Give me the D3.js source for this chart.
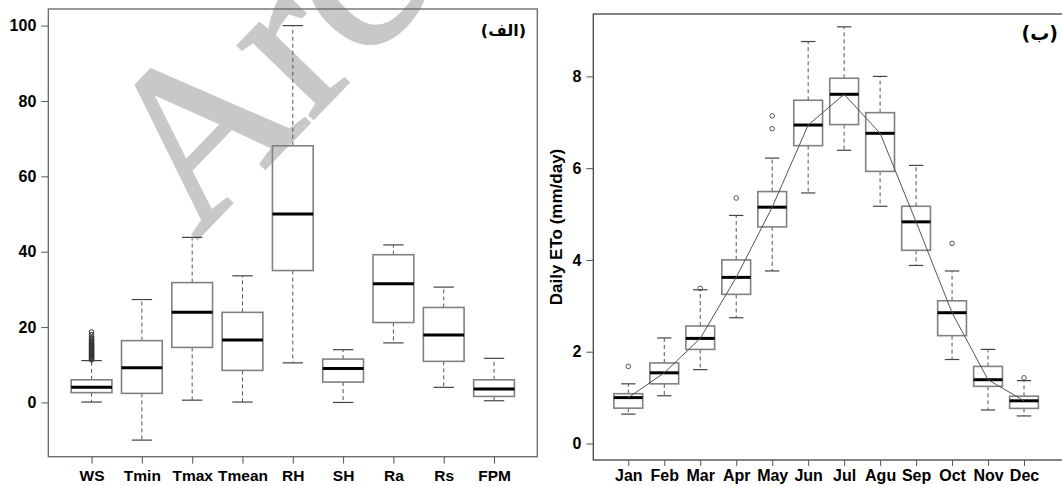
<!DOCTYPE html>
<html>
<head>
<meta charset="utf-8">
<script src="https://cdn.jsdelivr.net/npm/d3@7"></script>
<style>
  body { margin: 0; background: #fff; }
  text { font-family: "Liberation Sans", Arial, sans-serif; font-weight: bold; fill: #000; }
</style>
</head>
<body>
<script>
// left panel: weather variables
let vars = ["WS", "Tmin", "Tmax", "Tmean", "RH", "SH", "Ra", "Rs", "FPM"];
let varLow  = [0.1, -10.0, 0.6, 0.1, 10.5, 0.0, 15.8, 4.0, 0.45];
let varQ1   = [2.6, 2.4, 14.6, 8.5, 35.0, 5.4, 21.2, 10.9, 1.6];
let varMed  = [4.0, 9.2, 23.9, 16.6, 50.0, 9.0, 31.5, 17.9, 3.55];
let varQ3   = [6.0, 16.4, 31.8, 23.9, 68.1, 11.5, 39.2, 25.2, 6.0];
let varHigh = [11.1, 27.3, 43.8, 33.6, 100, 14.0, 41.8, 30.6, 11.7];
let wsOut = [11.3, 11.5, 11.7, 11.9, 12.1, 12.3, 12.5, 12.7, 12.9, 13.1, 13.3, 13.5, 13.7,
  13.9, 14.1, 14.3, 14.5, 14.7, 14.9, 15.1, 15.3, 15.5, 15.7, 15.9, 16.2, 16.5, 16.8, 17.1, 17.4, 18.0, 18.7];

// right panel: monthly daily ETo
let months = ["Jan", "Feb", "Mar", "Apr", "May", "Jun", "Jul", "Agu", "Sep", "Oct", "Nov", "Dec"];
let etoLow  = [0.64, 1.04, 1.61, 2.74, 3.76, 5.46, 6.39, 5.17, 3.88, 1.83, 0.73, 0.60];
let etoQ1   = [0.77, 1.30, 2.05, 3.25, 4.72, 6.49, 6.95, 5.93, 4.21, 2.35, 1.245, 0.765];
let etoMed  = [1.00, 1.54, 2.29, 3.62, 5.15, 6.94, 7.61, 6.76, 4.83, 2.85, 1.39, 0.93];
let etoQ3   = [1.085, 1.755, 2.56, 4.00, 5.49, 7.48, 7.96, 7.21, 5.17, 3.11, 1.68, 1.03];
let etoHigh = [1.30, 2.30, 3.35, 4.97, 6.22, 8.76, 9.08, 8.00, 6.06, 3.76, 2.05, 1.37];
let etoOut  = [[1.68], [], [3.38], [5.35], [7.14, 6.86], [], [], [], [], [4.36], [], [1.43]];

let leftTicks = [0, 20, 40, 60, 80, 100];
let rightTicks = [0, 2, 4, 6, 8];

let svg = d3.select("body").append("svg")
    .attr("width", 1062)
    .attr("height", 486);

// watermark behind everything (only its start shows, like the source)
svg.append("text")
    .attr("transform", "translate(196,240) rotate(-46)")
    .style("font-family", "'Liberation Serif', serif")
    .style("font-weight", "normal")
    .style("font-size", "228px")
    .style("fill", "#c8c8c8")
    .style("stroke", "#c8c8c8")
    .style("stroke-width", 3)
    .text("Arc");

function drawBoxes(g, x, y, n, low, q1, med, q3, high, outs, bw, outColor) {
    for (let i = 0; i < n; i++) {
        let cx = x(i + 1);
        let box = g.append("g");
        // whiskers
        box.append("line").attr("x1", cx).attr("x2", cx)
            .attr("y1", y(q3[i])).attr("y2", y(high[i]))
            .attr("stroke", "#555").attr("stroke-dasharray", "4,3");
        box.append("line").attr("x1", cx).attr("x2", cx)
            .attr("y1", y(q1[i])).attr("y2", y(low[i]))
            .attr("stroke", "#555").attr("stroke-dasharray", "4,3");
        // staples
        [low[i], high[i]].forEach(function (v) {
            box.append("line").attr("x1", cx - bw / 4).attr("x2", cx + bw / 4)
                .attr("y1", y(v)).attr("y2", y(v))
                .attr("stroke", "#444").attr("stroke-width", 1.2);
        });
        box.append("rect")
            .attr("x", cx - bw / 2).attr("width", bw)
            .attr("y", y(q3[i])).attr("height", y(q1[i]) - y(q3[i]))
            .attr("fill", "none").attr("stroke", "#808080").attr("stroke-width", 1.6);
        box.append("line").attr("x1", cx - bw / 2).attr("x2", cx + bw / 2)
            .attr("y1", y(med[i])).attr("y2", y(med[i]))
            .attr("stroke", "#000").attr("stroke-width", 3);
        box.selectAll("circle").data(outs[i]).enter().append("circle")
            .attr("cx", cx).attr("cy", function (d) { return y(d); })
            .attr("r", 2.3).attr("fill", "none")
            .attr("stroke", outColor).attr("stroke-width", 1);
    }
}

// ---------- left panel ----------
let xL = d3.scaleLinear().domain([0.14, 9.86]).range([48.3, 537.3]);
let yL = d3.scaleLinear().domain([-14.4, 104.4]).range([456.7, 9]);

let gL = svg.append("g");
let outsL = vars.map(function (v, i) { return i === 0 ? wsOut : []; });
drawBoxes(gL, xL, yL, vars.length, varLow, varQ1, varMed, varQ3, varHigh, outsL, 0.81 * 50.3, "#333");

gL.append("rect").attr("x", 48.3).attr("y", 9).attr("width", 489).attr("height", 447.7)
    .attr("fill", "none").attr("stroke", "#666").attr("stroke-width", 1.3);

let axL = gL.append("g").attr("transform", "translate(48.3,0)")
    .call(d3.axisLeft(yL).tickValues(leftTicks).tickSize(7).tickPadding(5));
let axLx = gL.append("g").attr("transform", "translate(0,456.7)")
    .call(d3.axisBottom(xL).tickValues(d3.range(1, 10)).tickSize(7).tickPadding(6)
        .tickFormat(function (d) { return vars[d - 1]; }));
axL.selectAll("text").style("font-size", "16px");
axLx.selectAll("text").style("font-size", "15.5px");

gL.append("text").attr("x", 526).attr("y", 36).attr("text-anchor", "end")
    .style("font-family", "'DejaVu Sans', sans-serif").style("font-size", "16px")
    .text("(الف)");

// ---------- right panel ----------
let xR = d3.scaleLinear().domain([1, 12]).range([628.3, 1024]);
let yR = d3.scaleLinear().domain([-0.36, 9.36]).range([460, 14]);

let gR = svg.append("g");
drawBoxes(gR, xR, yR, months.length, etoLow, etoQ1, etoMed, etoQ3, etoHigh, etoOut, 0.8 * 36, "#555");

gR.append("path")
    .datum(etoMed)
    .attr("d", d3.line().x(function (d, i) { return xR(i + 1); }).y(function (d) { return yR(d); }))
    .attr("fill", "none").attr("stroke", "#555").attr("stroke-width", 1);

gR.append("rect").attr("x", 593.3).attr("y", 14).attr("width", 480).attr("height", 446)
    .attr("fill", "none").attr("stroke", "#444").attr("stroke-width", 1.3);

let axR = gR.append("g").attr("transform", "translate(593.3,0)")
    .call(d3.axisLeft(yR).tickValues(rightTicks).tickSize(7).tickPadding(5));
let axRx = gR.append("g").attr("transform", "translate(0,460)")
    .call(d3.axisBottom(xR).tickValues(d3.range(1, 13)).tickSize(6).tickPadding(4)
        .tickFormat(function (d) { return months[d - 1]; }));
axR.selectAll("text").style("font-size", "16px");
axRx.selectAll("text").style("font-size", "16px");

gR.append("text")
    .attr("transform", "translate(562,227) rotate(-90)")
    .attr("text-anchor", "middle")
    .style("font-size", "17px")
    .text("Daily ETo (mm/day)");

gR.append("text").attr("x", 1058).attr("y", 40).attr("text-anchor", "end")
    .style("font-family", "'DejaVu Sans', sans-serif").style("font-size", "19px")
    .text("(ب)");

// axis styling like base R
svg.selectAll(".domain").remove();
svg.selectAll(".tick line").attr("stroke", "#555");
</script>
</body>
</html>
